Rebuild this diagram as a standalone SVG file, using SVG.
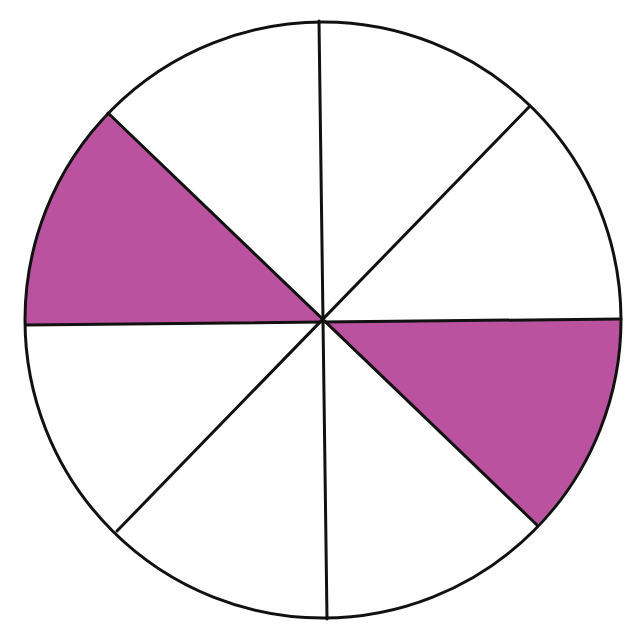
<svg xmlns="http://www.w3.org/2000/svg" width="625" height="631" viewBox="0 0 625 631">
<style>
.ln{stroke:#111;stroke-width:3;fill:none;stroke-linecap:round}
.sh{fill:#bb52a0;stroke:none}
</style>
<rect width="625" height="631" fill="#fff"/>
<g id="shaded-left"><path class="sh" d="M323,321 L108,113 A298,298 0 0 0 26,325 Z"/></g>
<g id="shaded-right"><path class="sh" d="M323,321 L621,319 A298,298 0 0 1 537,525 Z"/></g>
<g id="circle"><circle class="ln" cx="323" cy="320" r="298"/></g>
<g id="lines">
<line class="ln" x1="319" y1="21" x2="327" y2="619"/>
<line class="ln" x1="26" y1="325" x2="621" y2="319"/>
<line class="ln" x1="108" y1="113" x2="537" y2="525"/>
<line class="ln" x1="530" y1="106" x2="117" y2="531"/>
</g>
</svg>
